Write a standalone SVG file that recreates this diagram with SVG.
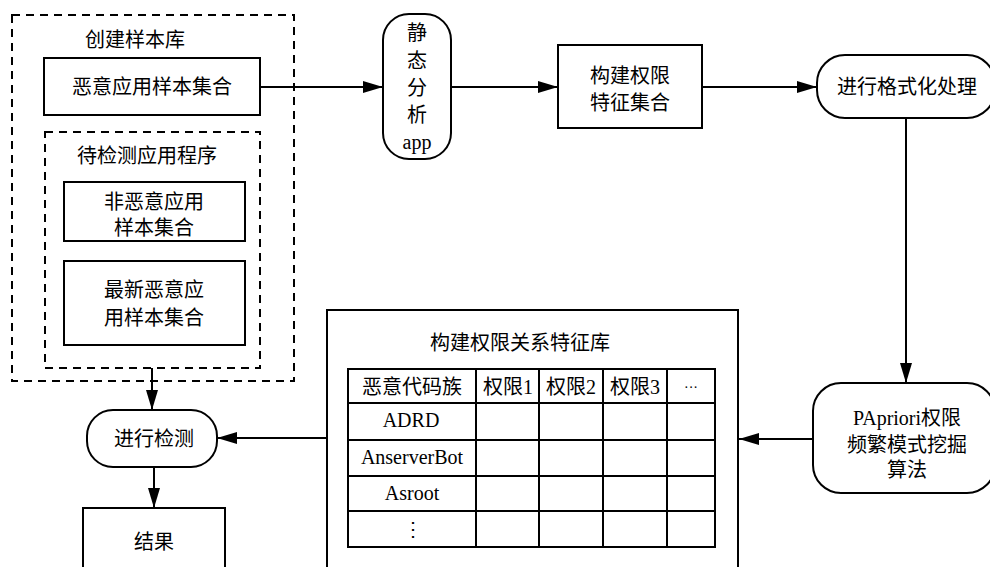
<svg xmlns="http://www.w3.org/2000/svg" width="990" height="567" viewBox="0 0 990 567">
<style>
.b{fill:#fff;stroke:#000;stroke-width:2}
.d{fill:none;stroke:#000;stroke-width:2;stroke-dasharray:8 6}
.l{fill:none;stroke:#000;stroke-width:2}
.t{font-family:"Liberation Serif","Noto Sans CJK SC",serif;font-size:20px;fill:#000;text-anchor:middle;dominant-baseline:central}
.g{stroke:#000;stroke-width:2}
</style>
<defs>
<marker id="a" viewBox="0 0 20 12" refX="20" refY="6" markerWidth="20" markerHeight="12" markerUnits="userSpaceOnUse" orient="auto"><path d="M0,0 L20,6 L0,12 Z" fill="#000"/></marker>
</defs>
<rect width="990" height="567" fill="#fff"/>
<g id="connectors">
<line class="l" x1="260" y1="87" x2="383" y2="87" marker-end="url(#a)"/>
<line class="l" x1="451" y1="87" x2="558" y2="87" marker-end="url(#a)"/>
<line class="l" x1="702" y1="87" x2="817" y2="87" marker-end="url(#a)"/>
<line class="l" x1="906" y1="118" x2="906" y2="383" marker-end="url(#a)"/>
<line class="l" x1="813" y1="439" x2="739" y2="439" marker-end="url(#a)"/>
<line class="l" x1="327" y1="438" x2="217" y2="438" marker-end="url(#a)"/>
<line class="l" x1="152" y1="368" x2="152" y2="410" marker-end="url(#a)"/>
<line class="l" x1="154" y1="467" x2="154" y2="508" marker-end="url(#a)"/>
</g>
<g id="sample-lib">
<rect class="d" x="12" y="15" width="282" height="366"/>
<text class="t" x="135" y="40">创建样本库</text>
</g>
<g id="malicious-set">
<rect class="b" x="44" y="58" width="216" height="57"/>
<text class="t" x="152" y="87">恶意应用样本集合</text>
</g>
<g id="to-detect">
<rect class="d" x="45" y="132" width="215" height="236"/>
<text class="t" x="147" y="156">待检测应用程序</text>
</g>
<g id="benign-set">
<rect class="b" x="64" y="182" width="181" height="59"/>
<text class="t" x="154" y="202">非恶意应用</text>
<text class="t" x="154" y="228">样本集合</text>
</g>
<g id="new-malicious-set">
<rect class="b" x="64" y="261" width="181" height="84"/>
<text class="t" x="154" y="290">最新恶意应</text>
<text class="t" x="154" y="318">用样本集合</text>
</g>
<g id="static-analysis">
<rect class="b" x="383" y="14" width="68" height="145" rx="26" ry="26"/>
<text class="t" x="417" y="33">静</text>
<text class="t" x="417" y="61">态</text>
<text class="t" x="417" y="88">分</text>
<text class="t" x="417" y="115">析</text>
<text class="t" x="417" y="142">app</text>
</g>
<g id="perm-set">
<rect class="b" x="558" y="45" width="144" height="83"/>
<text class="t" x="630" y="76">构建权限</text>
<text class="t" x="630" y="103">特征集合</text>
</g>
<g id="format">
<rect class="b" x="817" y="55" width="178" height="63" rx="28" ry="28"/>
<text class="t" x="907" y="87">进行格式化处理</text>
</g>
<g id="papriori">
<rect class="b" x="813" y="383" width="182" height="110" rx="28" ry="28"/>
<text class="t" x="907" y="418">PApriori权限</text>
<text class="t" x="907" y="445">频繁模式挖掘</text>
<text class="t" x="907" y="470">算法</text>
</g>
<g id="feature-lib">
<rect class="b" x="327" y="310" width="411" height="262"/>
<text class="t" x="520" y="343">构建权限关系特征库</text>
<g class="g">
<rect x="348" y="369" width="367" height="178" fill="none" stroke="#000" stroke-width="2"/>
<line x1="348" y1="403" x2="715" y2="403"/>
<line x1="348" y1="440" x2="715" y2="440"/>
<line x1="348" y1="476" x2="715" y2="476"/>
<line x1="348" y1="511" x2="715" y2="511"/>
<line x1="476" y1="369" x2="476" y2="547"/>
<line x1="539" y1="369" x2="539" y2="547"/>
<line x1="603" y1="369" x2="603" y2="547"/>
<line x1="667" y1="369" x2="667" y2="547"/>
</g>
<text class="t" x="412" y="387">恶意代码族</text>
<text class="t" x="508" y="387">权限1</text>
<text class="t" x="571" y="387">权限2</text>
<text class="t" x="635" y="387">权限3</text>
<text class="t" x="691" y="387" style="font-size:14px">···</text>
<text class="t" x="411" y="420">ADRD</text>
<text class="t" x="412" y="457">AnserverBot</text>
<text class="t" x="412" y="493">Asroot</text>
<text class="t" x="413" y="529">⋮</text>
</g>
<g id="detect">
<rect class="b" x="87" y="410" width="130" height="57" rx="26" ry="26"/>
<text class="t" x="154" y="439">进行检测</text>
</g>
<g id="result">
<rect class="b" x="83" y="508" width="142" height="70"/>
<text class="t" x="154" y="542">结果</text>
</g>
</svg>
